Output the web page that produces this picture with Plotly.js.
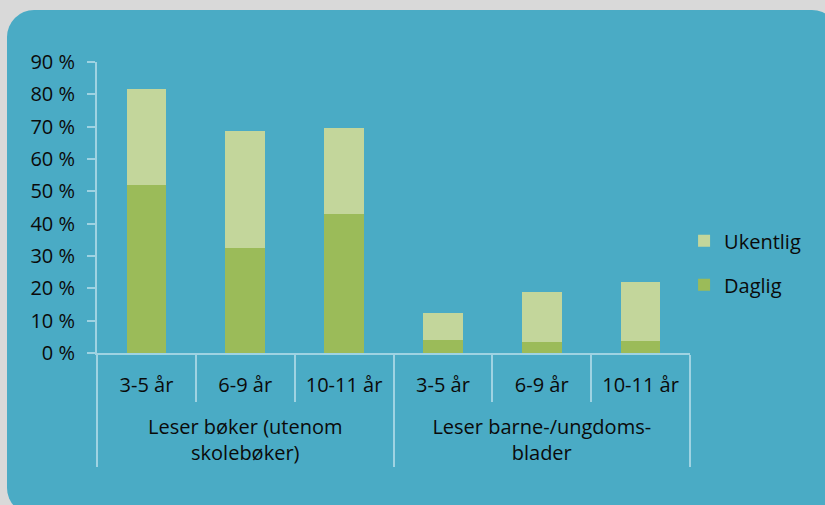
<!DOCTYPE html>
<html>
<head>
<meta charset="utf-8">
<script src="https://cdn.plot.ly/plotly-3.0.1.min.js"></script>
<style>
  html, body { margin: 0; padding: 0; background: #D9D9D9; width: 825px; height: 505px; overflow: hidden; }
  #panel { position: absolute; left: 7px; top: 10px; width: 832px; height: 505px; border-radius: 27px; background: #4AABC5; }
  #chart { position: absolute; left: 0; top: 0; width: 825px; height: 505px; }
</style>
</head>
<body>
<div id="panel"></div>
<div id="chart"></div>
<script>
const groups = ["Leser bøker (utenom<br>skolebøker)", "Leser barne-/ungdoms-<br>blader"];
const ages = ["3-5 år", "6-9 år", "10-11 år"];
const daglig = [52, 32.5, 43, 4, 3.4, 3.7];
const ukentlig = [29.5, 36.2, 26.5, 8.4, 15.6, 18.3];
const yTicks = [0, 10, 20, 30, 40, 50, 60, 70, 80, 90];
const yTickText = yTicks.map(v => v + " %");

// blank second line under each age label to push the group labels down
const xGroup = [], xAge = [];
groups.forEach(g => ages.forEach(a => { xGroup.push(g); xAge.push(a + "<br> "); }));

const lineCol = "#9FD3E2";
const font = { family: "Open Sans, sans-serif", size: 20, color: "#0a0a0a" };

const data = [
  { type: "bar", name: "Daglig", x: [xGroup, xAge], y: daglig,
    marker: { color: "#9BBB59" }, legendgroup: "b", legendrank: 2, hoverinfo: "skip" },
  { type: "bar", name: "Ukentlig", x: [xGroup, xAge], y: ukentlig,
    marker: { color: "#C3D69B" }, legendgroup: "a", legendrank: 1, hoverinfo: "skip" }
];

const layout = {
  width: 825, height: 505,
  margin: { l: 97, r: 135, t: 62, b: 152 },
  paper_bgcolor: "rgba(0,0,0,0)",
  plot_bgcolor: "rgba(0,0,0,0)",
  font: font,
  barmode: "stack",
  bargap: 0.6,
  showlegend: true,
  legend: { x: 0.99, xanchor: "left", y: 0.31, yanchor: "middle",
            traceorder: "grouped", tracegroupgap: 15,
            font: font, bgcolor: "rgba(0,0,0,0)" },
  xaxis: {
    type: "multicategory",
    showline: true, linecolor: lineCol, linewidth: 2,
    ticks: "outside", tickson: "boundaries", ticklen: 47, tickcolor: lineCol, tickwidth: 2,
    ticklabelstandoff: 13,
    showdividers: true, dividercolor: lineCol, dividerwidth: 2,
    showgrid: false, tickfont: font
  },
  yaxis: {
    range: [0, 90], tickvals: yTicks, ticktext: yTickText,
    showline: true, linecolor: lineCol, linewidth: 2,
    ticks: "outside", ticklen: 8, tickcolor: lineCol, tickwidth: 2,
    ticklabelstandoff: 8,
    showgrid: false, zeroline: false, tickfont: font
  }
};

Plotly.newPlot("chart", data, layout, { staticPlot: true });
</script>
</body>
</html>
